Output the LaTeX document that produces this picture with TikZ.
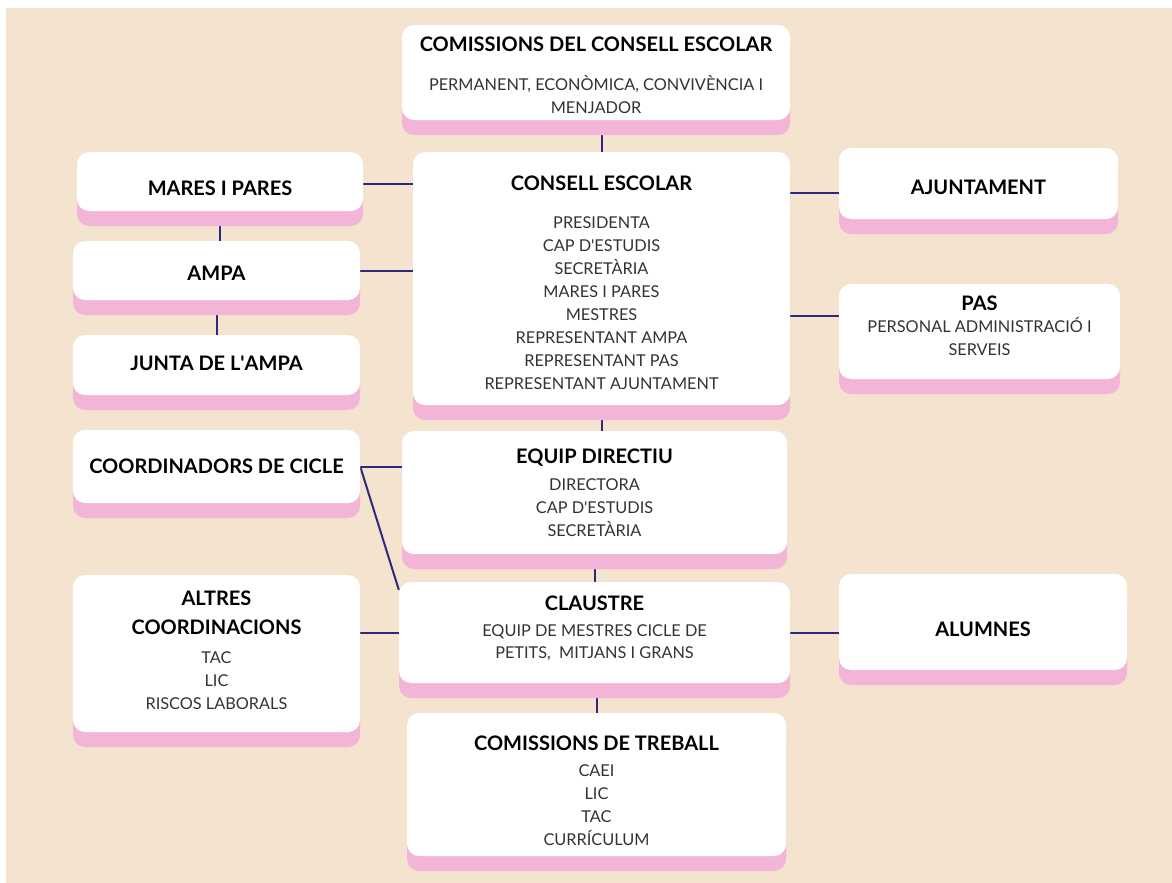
\documentclass[tikz,border=0pt]{standalone}
\usepackage{fontspec}
\setmainfont{Lato}
\usetikzlibrary{shadows,backgrounds}

\definecolor{beige}{HTML}{F3E3CF}
\definecolor{shadowpink}{HTML}{F2B5D8}
\definecolor{linknavy}{HTML}{2B2A7C}
\definecolor{bodygray}{HTML}{333333}

\newcommand{\cardtitle}[1]{{\fontsize{20}{23}\selectfont\bfseries\color{black}#1}}
% struts that move a card's text down or up
\newcommand{\pushdown}[1]{\rule{0pt}{\dimexpr14.3pt+#1*2\relax}}
\newcommand{\pushup}[1]{\rule[-\dimexpr#1*2\relax]{0pt}{0pt}}
\newcommand{\apos}{\textquotesingle}

\tikzset{
  card/.style={rectangle, rounded corners=12pt, fill=white, align=center, inner sep=0pt,
    text=bodygray, font=\fontsize{16.3}{23}\selectfont,
    general shadow={fill=shadowpink, shadow yshift=-15pt}},
  link/.style={draw=linknavy, line width=2pt}
}

\begin{document}
\begin{tikzpicture}[x=1pt,y=-1pt]

\useasboundingbox (0,0) rectangle (1172,883);

% top commissions
\node[card, minimum width=388pt, minimum height=95pt] (cce) at (596,72.5)
  {\pushdown{3pt}\cardtitle{COMISSIONS DEL CONSELL ESCOLAR}\\[16pt]PERMANENT, ECONÒMICA, CONVIVÈNCIA I\\MENJADOR};

% central council
\node[card, minimum width=377pt, minimum height=253pt] (ce) at (601.5,278.5)
  {\pushdown{4pt}\cardtitle{CONSELL ESCOLAR}\\[15pt]PRESIDENTA\\CAP D\apos ESTUDIS\\SECRETÀRIA\\MARES I PARES\\MESTRES\\REPRESENTANT AMPA\\REPRESENTANT PAS\\REPRESENTANT AJUNTAMENT};

% left column
\node[card, minimum width=286pt, minimum height=59pt] (mares) at (220,181.5) {\pushdown{7pt}\cardtitle{MARES I PARES}};
\node[card, minimum width=287pt, minimum height=59pt] (ampa) at (216.5,270.5) {\pushdown{3pt}\cardtitle{AMPA}};
\node[card, minimum width=287pt, minimum height=60pt] (junta) at (216.5,365) {\cardtitle{JUNTA DE L\apos AMPA}\pushup{2pt}};
\node[card, minimum width=287pt, minimum height=73pt] (coord) at (216.5,466.5) {\cardtitle{COORDINADORS DE CICLE}};
\node[card, minimum width=287pt, minimum height=157pt] (altres) at (216.5,653.5)
  {\cardtitle{ALTRES}\\[6pt]\cardtitle{COORDINACIONS}\\[6pt]TAC\\LIC\\RISCOS LABORALS\pushup{3pt}};

% right column
\node[card, minimum width=279pt, minimum height=71pt] (ajunt) at (978.5,183.5) {\pushdown{4pt}\cardtitle{AJUNTAMENT}};
\node[card, minimum width=281pt, minimum height=95pt] (pas) at (979.5,331.5)
  {\cardtitle{PAS}\\[-1pt]PERSONAL ADMINISTRACIÓ I\\SERVEIS\pushup{6pt}};
\node[card, minimum width=288pt, minimum height=96pt] (alumnes) at (983,622) {\pushdown{7pt}\cardtitle{ALUMNES}};

% lower middle
\node[card, minimum width=385pt, minimum height=123pt] (equip) at (594.5,492.5)
  {\cardtitle{EQUIP DIRECTIU}\\[4pt]DIRECTORA\\CAP D\apos ESTUDIS\\SECRETÀRIA};
\node[card, minimum width=391pt, minimum height=101pt] (claustre) at (594.5,632.5)
  {\cardtitle{CLAUSTRE}\\[3pt]EQUIP DE MESTRES CICLE DE\\[-1pt]PETITS,\ \ MITJANS I GRANS\pushup{5pt}};
\node[card, minimum width=379pt, minimum height=143pt] (treball) at (596.5,784.5)
  {\pushdown{6pt}\cardtitle{COMISSIONS DE TREBALL}\\[3pt]CAEI\\LIC\\TAC\\CURRÍCULUM};

\begin{pgfonlayer}{background}
% page and backdrop
\fill[white] (0,0) rectangle (1172,883);
\fill[beige] (6,8) rectangle (1172,883);

% vertical links
\draw[link] (ce.north) -- (ce.north |- cce.south);
\draw[link] (mares.south) -- (mares.south |- ampa.north);
\draw[link] (ampa.south) -- (ampa.south |- junta.north);
\draw[link] (ce.south) -- (ce.south |- equip.north);
\draw[link] (equip.south) -- (equip.south |- claustre.north);
\draw[link] (treball.north) -- (treball.north |- claustre.south);

% horizontal links
\draw[link] ([yshift=-2pt]mares.east) -- ([yshift=-2pt]mares.east -| ce.west);
\draw[link] (ampa.east) -- (ampa.east -| ce.west);
\draw[link] ([yshift=-9pt]ajunt.west) -- ([yshift=-9pt]ajunt.west -| ce.east);
\draw[link] ([yshift=16pt]pas.west) -- ([yshift=16pt]pas.west -| ce.east);
\draw[link] (coord.east) -- (coord.east -| equip.west);
\draw[link] (claustre.west) -- (claustre.west -| altres.east);
\draw[link] (claustre.east) -- (claustre.east -| alumnes.west);

% slanted link
\draw[link] (coord.east) -- ([yshift=-8pt]claustre.north west);
\end{pgfonlayer}

\end{tikzpicture}
\end{document}
